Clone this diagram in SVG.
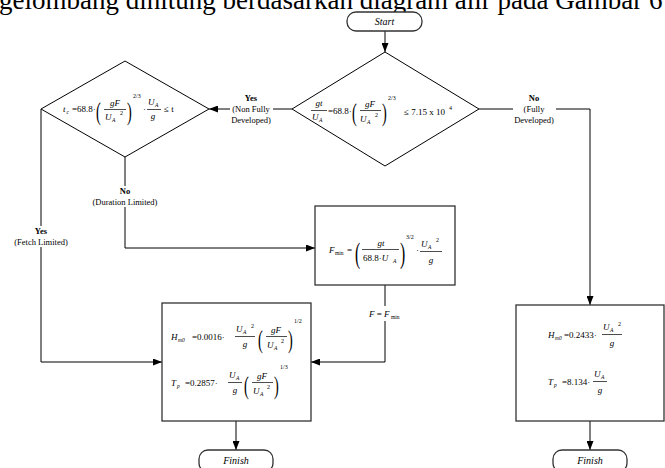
<svg xmlns="http://www.w3.org/2000/svg" width="665" height="468" viewBox="0 0 665 468" font-family="'Liberation Serif','Times New Roman',serif">
<defs>
<marker id="ah" markerUnits="userSpaceOnUse" markerWidth="9" markerHeight="7" refX="9" refY="3.5" orient="auto">
<path d="M0,0 L9,3.5 L0,7 z" fill="#000"/>
</marker>
<style>
.ln{stroke:#000;stroke-width:1;fill:none}
.bx{fill:#fff;stroke:#333;stroke-width:1.3}
.dm{fill:#fff;stroke:#000;stroke-width:1}
text{font-family:"Liberation Serif","Times New Roman",serif;fill:#000}
.eq{font-size:9px}
.i{font-style:italic}
.sb{font-size:5.5px}
.sp{font-size:6px}
.pa{font-size:26px}
.lb{font-size:8.5px;text-anchor:middle}
.b{font-weight:bold}
.tm{font-size:10px;font-style:italic;text-anchor:middle}
.m{text-anchor:middle}
.fb{stroke:#000;stroke-width:0.7}
</style>
</defs>
<rect width="665" height="468" fill="#fff"/>
<text x="-1" y="9" font-size="27">gelombang dihitung berdasarkan diagram alir pada Gambar 6</text>

<g id="connectors">
<path class="ln" d="M385,31 V52" marker-end="url(#ah)"/>
<path class="ln" d="M292,109 H273"/>
<path class="ln" d="M230,109 H209" marker-end="url(#ah)"/>
<path class="ln" d="M479,109 H513"/>
<path class="ln" d="M556,109 H590 V305" marker-end="url(#ah)"/>
<path class="ln" d="M125,157 V186"/>
<path class="ln" d="M125,207 V248 H315" marker-end="url(#ah)"/>
<path class="ln" d="M41,109 V226"/>
<path class="ln" d="M41,247 V362 H162" marker-end="url(#ah)"/>
<path class="ln" d="M385,285 V306"/>
<path class="ln" d="M385,321 V362 H311" marker-end="url(#ah)"/>
<path class="ln" d="M236,421 V450" marker-end="url(#ah)"/>
<path class="ln" d="M590,421 V450" marker-end="url(#ah)"/>
<text class="lb b" x="251" y="101">Yes</text>
<text class="lb" x="251" y="112">(Non Fully</text>
<text class="lb" x="251" y="123">Developed)</text>
<text class="lb b" x="534" y="101">No</text>
<text class="lb" x="534" y="112">(Fully</text>
<text class="lb" x="534" y="123">Developed)</text>
<text class="lb b" x="125" y="194">No</text>
<text class="lb" x="125" y="205">(Duration Limited)</text>
<text class="lb b" x="41" y="234">Yes</text>
<text class="lb" x="41" y="245">(Fetch Limited)</text>
<text class="eq" x="369" y="317"><tspan class="i">F</tspan> = <tspan class="i">F</tspan></text>
<text class="sb" x="391" y="319">min</text>
</g>

<g id="start">
<rect class="bx" x="347" y="12" width="75" height="19" rx="9"/>
<text class="tm" x="384.5" y="25">Start</text>
</g>

<g id="decision-main">
<polygon class="dm" points="385,52 479,109 385,166 292,109"/>
<text class="eq i m" x="319" y="106">gt</text>
<line class="fb" x1="311" y1="110.5" x2="327" y2="110.5"/>
<text class="eq i" x="312" y="120">U</text><text class="sb i" x="319" y="121.5">A</text>
<text class="eq" x="328" y="114">=68.8·</text>
<text class="pa" transform="translate(352,121) scale(0.55,1)">(</text>
<text class="eq i m" x="370" y="107">gF</text>
<line class="fb" x1="360" y1="110.5" x2="381" y2="110.5"/>
<text class="eq i" x="360" y="122">U</text><text class="sb i" x="367" y="123.5">A</text><text class="sp" x="375" y="116.5">2</text>
<text class="pa" transform="translate(382,121) scale(0.55,1)">)</text>
<text class="sp" x="388" y="100">2/3</text>
<text class="eq" x="404" y="115">≤ 7.15 x 10</text><text class="sp" x="449" y="110">4</text>
</g>

<g id="decision-duration">
<polygon class="dm" points="125,61 209,109 125,157 41,109"/>
<text class="eq i" x="63" y="112">t</text><text class="sb i" x="66.5" y="114">c</text>
<text class="eq" x="72" y="112">=68.8·</text>
<text class="pa" transform="translate(96,120) scale(0.55,1)">(</text>
<text class="eq i m" x="115" y="106">gF</text>
<line class="fb" x1="104" y1="109.5" x2="126" y2="109.5"/>
<text class="eq i" x="105" y="120">U</text><text class="sb i" x="112" y="121.5">A</text><text class="sp" x="120" y="115">2</text>
<text class="pa" transform="translate(127,120) scale(0.55,1)">)</text>
<text class="sp" x="133" y="98">2/3</text>
<text class="eq" x="143" y="112">·</text>
<text class="eq i" x="148" y="105">U</text><text class="sb i" x="155" y="106.5">A</text>
<line class="fb" x1="147" y1="109.5" x2="161" y2="109.5"/>
<text class="eq i m" x="153" y="119">g</text>
<text class="eq" x="164" y="112">≤ t</text>
</g>

<g id="fmin">
<rect class="bx" x="315" y="206" width="140" height="79"/>
<text class="eq i" x="329" y="253">F</text><text class="sb" x="335" y="255">min</text>
<text class="eq" x="347" y="253">=</text>
<text class="pa" transform="translate(355,263) scale(0.6,1.1)">(</text>
<text class="eq i m" x="381" y="246">gt</text>
<line class="fb" x1="362" y1="249.5" x2="399" y2="249.5"/>
<text class="eq" x="363" y="261">68.8·<tspan class="i">U</tspan></text><text class="sb i" x="393" y="262.5">A</text>
<text class="pa" transform="translate(400,263) scale(0.6,1.1)">)</text>
<text class="sp" x="406" y="239">3/2</text>
<text class="eq" x="416" y="253">·</text>
<text class="eq i" x="421" y="247">U</text><text class="sb i" x="428" y="248.5">A</text><text class="sp" x="436" y="242">2</text>
<line class="fb" x1="420" y1="251.5" x2="442" y2="251.5"/>
<text class="eq i m" x="431" y="263">g</text>
</g>

<g id="result-fetch">
<rect class="bx" x="162" y="303" width="149" height="118"/>
<text class="eq i" x="171" y="340">H</text><text class="sb i" x="178" y="342">m0</text>
<text class="eq" x="192" y="340">=0.0016·</text>
<text class="eq i" x="236" y="332">U</text><text class="sb i" x="243" y="333.5">A</text><text class="sp" x="251" y="328">2</text>
<line class="fb" x1="235" y1="336.5" x2="255" y2="336.5"/>
<text class="eq i m" x="245" y="347">g</text>
<text class="pa" transform="translate(258,348) scale(0.55,1)">(</text>
<text class="eq i m" x="276" y="333">gF</text>
<line class="fb" x1="266" y1="336.5" x2="287" y2="336.5"/>
<text class="eq i" x="267" y="348">U</text><text class="sb i" x="274" y="349.5">A</text><text class="sp" x="281" y="343">2</text>
<text class="pa" transform="translate(288,348) scale(0.55,1)">)</text>
<text class="sp" x="294" y="323">1/2</text>
<text class="eq i" x="171" y="386">T</text><text class="sb i" x="177" y="388">p</text>
<text class="eq" x="185" y="386">=0.2857·</text>
<text class="eq i" x="229" y="378">U</text><text class="sb i" x="236" y="379.5">A</text>
<line class="fb" x1="228" y1="382.5" x2="242" y2="382.5"/>
<text class="eq i m" x="235" y="393">g</text>
<text class="pa" transform="translate(244,394) scale(0.55,1)">(</text>
<text class="eq i m" x="262" y="379">gF</text>
<line class="fb" x1="252" y1="382.5" x2="273" y2="382.5"/>
<text class="eq i" x="253" y="394">U</text><text class="sb i" x="260" y="395.5">A</text><text class="sp" x="267" y="389">2</text>
<text class="pa" transform="translate(274,394) scale(0.55,1)">)</text>
<text class="sp" x="280" y="369">1/3</text>
</g>

<g id="result-full">
<rect class="bx" x="516" y="305" width="148" height="116"/>
<text class="eq i" x="548" y="338">H</text><text class="sb i" x="555" y="340">m0</text>
<text class="eq" x="564" y="338">=0.2433·</text>
<text class="eq i" x="603" y="330">U</text><text class="sb i" x="610" y="331.5">A</text><text class="sp" x="618" y="326">2</text>
<line class="fb" x1="602" y1="334.5" x2="622" y2="334.5"/>
<text class="eq i m" x="612" y="346">g</text>
<text class="eq i" x="548" y="385">T</text><text class="sb i" x="554" y="387">p</text>
<text class="eq" x="562" y="385">=8.134·</text>
<text class="eq i" x="594" y="377">U</text><text class="sb i" x="601" y="378.5">A</text>
<line class="fb" x1="593" y1="381.5" x2="607" y2="381.5"/>
<text class="eq i m" x="600" y="393">g</text>
</g>

<g id="finish-left">
<rect class="bx" x="199" y="450" width="74" height="22" rx="9"/>
<text class="tm" x="236" y="464">Finish</text>
</g>
<g id="finish-right">
<rect class="bx" x="553" y="450" width="74" height="22" rx="9"/>
<text class="tm" x="590" y="464">Finish</text>
</g>
</svg>
